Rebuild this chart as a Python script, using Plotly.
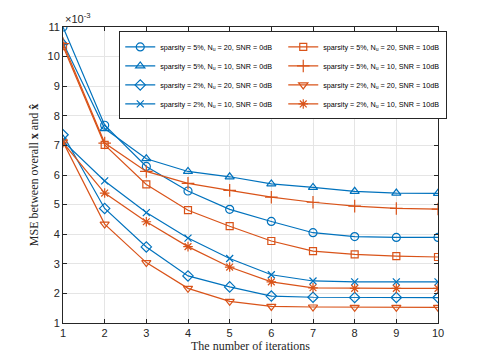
import plotly.graph_objects as go

iterations = [1, 2, 3, 4, 5, 6, 7, 8, 9, 10]

# MSE values in units of 1e-3
mse_s5_n20_0db = [11.0, 7.68, 6.29, 5.46, 4.84, 4.43, 4.05, 3.92, 3.89, 3.89]
mse_s5_n10_0db = [10.47, 7.57, 6.55, 6.12, 5.94, 5.70, 5.58, 5.45, 5.39, 5.38]
mse_s2_n20_0db = [7.36, 4.87, 3.57, 2.59, 2.22, 1.91, 1.87, 1.86, 1.86, 1.86]
mse_s2_n10_0db = [7.14, 5.80, 4.73, 3.87, 3.18, 2.63, 2.42, 2.39, 2.39, 2.39]
mse_s5_n20_10db = [10.35, 7.02, 5.68, 4.81, 4.27, 3.77, 3.43, 3.32, 3.26, 3.23]
mse_s5_n10_10db = [10.44, 7.08, 6.12, 5.72, 5.48, 5.25, 5.08, 4.95, 4.87, 4.85]
mse_s2_n20_10db = [7.12, 4.34, 3.04, 2.17, 1.73, 1.56, 1.54, 1.53, 1.53, 1.53]
mse_s2_n10_10db = [7.09, 5.39, 4.42, 3.58, 2.89, 2.39, 2.19, 2.17, 2.17, 2.17]

names = [
    "sparsity = 5%, N<sub>u</sub> = 20, SNR = 0dB",
    "sparsity = 5%, N<sub>u</sub> = 20, SNR = 10dB",
    "sparsity = 5%, N<sub>u</sub> = 10, SNR = 0dB",
    "sparsity = 5%, N<sub>u</sub> = 10, SNR = 10dB",
    "sparsity = 2%, N<sub>u</sub> = 20, SNR = 0dB",
    "sparsity = 2%, N<sub>u</sub> = 20, SNR = 10dB",
    "sparsity = 2%, N<sub>u</sub> = 10, SNR = 0dB",
    "sparsity = 2%, N<sub>u</sub> = 10, SNR = 10dB",
]

BLUE = "#0072BD"
ORANGE = "#D95319"

series = [
    (mse_s5_n20_0db, BLUE, "circle-open", 8),
    (mse_s5_n20_10db, ORANGE, "square-open", 7),
    (mse_s5_n10_0db, BLUE, "triangle-up-open", 8),
    (mse_s5_n10_10db, ORANGE, "cross-thin-open", 9),
    (mse_s2_n20_0db, BLUE, "diamond-open", 8),
    (mse_s2_n20_10db, ORANGE, "triangle-down-open", 8),
    (mse_s2_n10_0db, BLUE, "x-thin-open", 7),
    (mse_s2_n10_10db, ORANGE, "asterisk-open", 8),
]

fig = go.Figure()
for (vals, color, sym, sz), name in zip(series, names):
    fig.add_trace(go.Scatter(
        x=iterations, y=vals, name=name, mode="lines+markers",
        line=dict(color=color, width=1.2),
        marker=dict(symbol=sym, size=sz, color=color, line=dict(color=color, width=1.2)),
    ))

axis_common = dict(
    showline=True, linecolor="#262626", linewidth=1, mirror="ticks",
    ticks="inside", ticklen=4, tickcolor="#262626",
    showgrid=True, gridcolor="#E5E5E5", gridwidth=1, zeroline=False,
    tickfont=dict(family="Liberation Sans, Arial", size=11, color="#262626"),
)

fig.update_layout(
    width=477, height=355,
    paper_bgcolor="white", plot_bgcolor="white",
    margin=dict(l=55, r=47, t=19, b=40),
    showlegend=True,
    legend=dict(
        orientation="h", x=0.15, y=0.985, xanchor="left", yanchor="top",
        entrywidth=118, entrywidthmode="pixels", tracegroupgap=0,
        bgcolor="white", bordercolor="#262626", borderwidth=1,
        font=dict(family="Liberation Sans, Arial", size=7.2, color="#000000"),
        itemsizing="trace", traceorder="normal",
    ),
    xaxis=dict(range=[1, 10], dtick=1,
               title=dict(text="The number of iterations", standoff=2,
                          font=dict(family="Liberation Serif, Times New Roman", size=12, color="#262626")),
               **axis_common),
    yaxis=dict(range=[1, 11], dtick=1,
               title=dict(text="MSE between overall <b>x</b> and <b>x̂</b>", standoff=6,
                          font=dict(family="Liberation Serif, Times New Roman", size=12, color="#262626")),
               **axis_common),
    annotations=[dict(
        text="×10<sup>-3</sup>", xref="paper", yref="paper", x=0.0, y=1.0,
        xanchor="left", yanchor="bottom", showarrow=False,
        font=dict(family="Liberation Sans, Arial", size=11, color="#262626"),
    )],
)

fig.write_html("out.html")
